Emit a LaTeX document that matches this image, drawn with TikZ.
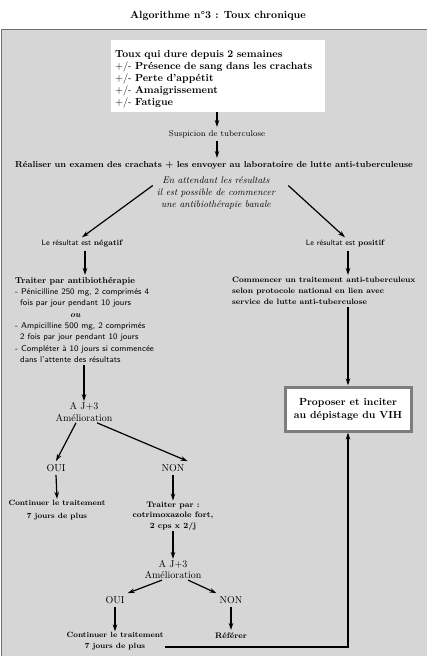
\documentclass[tikz,border=0pt]{standalone}
\usetikzlibrary{arrows.meta}
\definecolor{panel}{RGB}{214,214,214}
\definecolor{panelline}{RGB}{110,110,110}
\definecolor{frame}{RGB}{125,125,125}
\begin{document}
\begin{tikzpicture}[x=1pt,y=-1pt,
  arr/.style={line width=1.2pt,-{Stealth[length=7pt,width=4.5pt]}},
  txt/.style={inner sep=1pt,align=center},
]
\useasboundingbox (0,0) rectangle (427,656);
% grey panel behind the flowchart
\fill[panel] (1,29) rectangle (427,656);
\draw[panelline,line width=0.8pt] (1,656) -- (1,29) -- (427,29);

\node[txt,font=\fontsize{10.5}{12}\selectfont\bfseries] (title) at (218,16) {Algorithme n\textdegree3 : Toux chronique};

\node[fill=white,align=left,text width=206pt,inner xsep=4pt,minimum height=72pt,
      font=\fontsize{10.3}{12}\selectfont\bfseries] (symp) at (218,76)
  {\rule{0pt}{14pt}Toux qui dure depuis 2 semaines\\
   \mdseries+/- \bfseries Présence de sang dans les crachats\\
   \mdseries+/- \bfseries Perte d'appétit\\
   \mdseries+/- \bfseries Amaigrissement\\
   \mdseries+/- \bfseries Fatigue};

\node[txt,font=\fontsize{8.4}{10}\selectfont,inner sep=3pt] (susp) at (217,134) {Suspicion de tuberculose};

\node[txt,font=\fontsize{8.7}{10}\selectfont\bfseries,inner sep=3pt] (exam) at (214,165)
  {Réaliser un examen des crachats + les envoyer au laboratoire de lutte anti-tuberculeuse};

\node[txt,font=\fontsize{9.6}{12}\selectfont\itshape] (wait) at (216,193)
  {En attendant les résultats\\il est possible de commencer\\une antibiothérapie banale};

% negative branch
\node[txt,font=\fontsize{7.8}{9}\selectfont\sffamily,inner sep=3pt] (neg) at (82,244)
  {Le résultat est \rmfamily\bfseries négatif};

\node[align=left,inner sep=2pt,anchor=north west,font=\fontsize{8.4}{11.3}\selectfont\sffamily] (trait) at (13,275)
  {{\rmfamily\bfseries\fontsize{8.6}{11.3}\selectfont Traiter par antibiothérapie}\\
   - Pénicilline 250 mg, 2 comprimés 4\\
   \hspace*{5pt}fois par jour pendant 10 jours\\
   \hspace*{55pt}{\rmfamily\bfseries\itshape ou}\\
   - Ampicilline 500 mg, 2 comprimés\\
   \hspace*{5pt}2 fois par jour pendant 10 jours\\
   - Compléter à 10 jours si commencée\\
   \hspace*{5pt}dans l'attente des résultats};

\node[txt,font=\fontsize{10}{12}\selectfont] (aj3) at (84,412) {A J+3\\Amélioration};
\node[txt,font=\fontsize{10}{10}\selectfont,inner sep=3pt] (oui) at (56,468) {OUI};
\node[txt,font=\fontsize{10}{10}\selectfont,inner sep=3pt] (non) at (173,468) {NON};
\node[txt,font=\fontsize{7.6}{13}\selectfont\bfseries] (cont) at (57,510) {Continuer le traitement\\7 jours de plus};
\node[txt,font=\fontsize{8}{10.5}\selectfont\bfseries] (cotri) at (173,516)
  {Traiter par :\\cotrimoxazole fort,\\2 cps x 2/j};
\node[txt,font=\fontsize{10}{11.5}\selectfont] (aj3b) at (173,569.5) {A J+3\\Amélioration};
\node[txt,font=\fontsize{10}{10}\selectfont,inner sep=3pt] (ouib) at (115,600) {OUI};
\node[txt,font=\fontsize{10}{10}\selectfont,inner sep=3pt] (nonb) at (231,600) {NON};
\node[txt,font=\fontsize{7.6}{11}\selectfont\bfseries] (contb) at (115,641.5) {Continuer le traitement\\7 jours de plus};
\node[txt,font=\fontsize{8}{10}\selectfont\bfseries,inner sep=3pt] (ref) at (231,636) {Référer};

% positive branch
\node[txt,font=\fontsize{7.8}{9}\selectfont\sffamily,inner sep=3pt] (pos) at (345,244)
  {Le résultat est \rmfamily\bfseries positif};
\node[align=left,inner sep=2pt,anchor=north west,font=\fontsize{7.8}{11}\selectfont\bfseries] (comm) at (230,275)
  {Commencer un traitement anti-tuberculeux\\
   selon protocole national en lien avec\\
   service de lutte anti-tuberculose};

\node[draw=frame,line width=3pt,fill=white,minimum width=126pt,minimum height=44pt,align=center,
      font=\fontsize{10.3}{13}\selectfont\bfseries] (vih) at (348,409)
  {Proposer et inciter\\au dépistage du VIH};

% connectors
\draw[arr] (susp.north |- symp.south) -- (susp.north);
\draw[arr] (susp.south) -- (susp.south |- exam.north);
\draw[arr] ([xshift=-3pt,yshift=-10pt]wait.north west) -- (neg.north);
\draw[arr] ([xshift=12pt,yshift=-10pt]wait.north east) -- (pos.north);
\draw[arr] ([xshift=3pt]neg.south) -- ([xshift=3pt]neg.south |- trait.north);
\draw[arr] (aj3.north |- trait.south) -- (aj3.north);
\draw[arr] ([xshift=-8pt]aj3.south) -- (oui.north);
\draw[arr] ([xshift=13pt]aj3.south) -- (non.north east);
\draw[arr] (oui.south) -- (cont.north);
\draw[arr] (non.south) -- (cotri.north);
\draw[arr] (cotri.south) -- (aj3b.north);
\draw[arr] ([xshift=-11pt]aj3b.south) -- (ouib.north east);
\draw[arr] ([xshift=15pt]aj3b.south) -- (nonb.north west);
\draw[arr] (ouib.south) -- (contb.north);
\draw[arr] (nonb.south) -- (ref.north);
\draw[arr] (vih.north |- pos.south) -- (vih.north |- comm.north);
\draw[arr] (vih.north |- comm.south) -- (vih.north);
\draw[arr] ([yshift=-5.5pt]contb.east) -| (vih.south);
\end{tikzpicture}
\end{document}
